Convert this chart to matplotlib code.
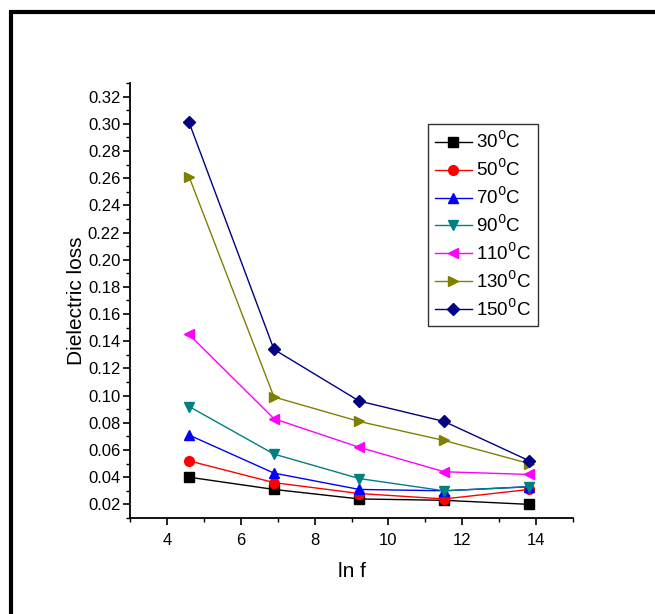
import matplotlib.pyplot as plt
from matplotlib.patches import Rectangle
from matplotlib.ticker import MultipleLocator

plt.rcParams["font.family"] = ["Liberation Sans", "DejaVu Sans"]

ln_f = [4.6, 6.9, 9.21, 11.51, 13.82]
temps = ["30", "50", "70", "90", "110", "130", "150"]
loss_30 = [0.040, 0.031, 0.024, 0.023, 0.020]
loss_50 = [0.052, 0.036, 0.028, 0.024, 0.031]
loss_70 = [0.071, 0.043, 0.031, 0.030, 0.033]
loss_90 = [0.092, 0.057, 0.039, 0.030, 0.033]
loss_110 = [0.145, 0.083, 0.062, 0.044, 0.042]
loss_130 = [0.261, 0.099, 0.081, 0.067, 0.050]
loss_150 = [0.301, 0.134, 0.096, 0.081, 0.052]

series = [loss_30, loss_50, loss_70, loss_90, loss_110, loss_130, loss_150]
colors = ["black", "red", "blue", "#008080", "#ff00ff", "#808000", "#000080"]
markers = ["s", "o", "^", "v", "<", ">", "D"]

fig = plt.figure(figsize=(6.55, 6.14), dpi=100)
ax = fig.add_axes([0.1985, 0.1564, 0.6763, 0.7084])

for vals, t, c, m in zip(series, temps, colors, markers):
    ms = 6 if m == "D" else 7
    ax.plot(ln_f, vals, color=c, marker=m, markersize=ms, linewidth=1.0,
            label=f"{t}$^0$C")

ax.set_xlim(3, 15)
ax.set_ylim(0.01, 0.33)
ax.xaxis.set_major_locator(MultipleLocator(2))
ax.xaxis.set_minor_locator(MultipleLocator(1))
ax.yaxis.set_major_locator(MultipleLocator(0.02))
ax.yaxis.set_minor_locator(MultipleLocator(0.01))
ax.yaxis.set_major_formatter(plt.FormatStrFormatter("%.2f"))
ax.tick_params(which="major", direction="out", length=5, width=1.2, labelsize=12)
ax.tick_params(axis="y", which="major", pad=2)
ax.tick_params(axis="x", which="major", pad=6)
ax.tick_params(which="minor", direction="out", length=3, width=1.0)
for side in ["top", "right"]:
    ax.spines[side].set_visible(False)
for side in ["left", "bottom"]:
    ax.spines[side].set_linewidth(1.3)

ax.set_xlabel("ln f", fontsize=15, labelpad=10)
ax.set_ylabel("Dielectric loss", fontsize=15, labelpad=1)

leg = ax.legend(loc="upper right", bbox_to_anchor=(0.92, 0.905), fontsize=13.5,
                frameon=True, fancybox=False, edgecolor="black",
                handlelength=2.0, handletextpad=0.2, labelspacing=0.34,
                borderpad=0.35, borderaxespad=0)
leg.get_frame().set_linewidth(1.0)

# outer frame around the figure (cut at right and bottom)
fig.patches.append(Rectangle((11 / 655, -0.1), 1.2, (614 - 12) / 614 + 0.1,
                             transform=fig.transFigure, fill=False,
                             edgecolor="black", linewidth=3))

fig.savefig("out.png", dpi=100)
